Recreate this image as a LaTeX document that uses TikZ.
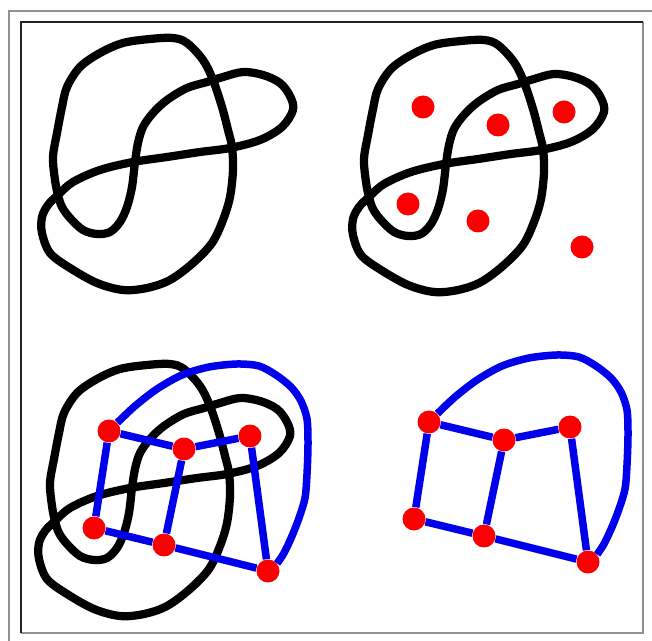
\documentclass[tikz,border=0pt]{standalone}
\usepackage{tikz}
\usetikzlibrary{calc}
\definecolor{linkblue}{RGB}{0,0,235}
\definecolor{dotred}{RGB}{250,0,0}
\definecolor{framegray}{RGB}{145,145,145}
\definecolor{framedark}{RGB}{35,35,35}

\begin{document}
\begin{tikzpicture}[x=0.02cm,y=-0.02cm,
    knot/.style={black,line width=0.165cm,line join=round},
    link/.style={linkblue,line width=0.15cm,line join=round},
    vertex/.style={circle,fill=dotred,inner sep=0pt,minimum size=0.46cm}]
  \useasboundingbox (0,0) rectangle (652,641);
  % frame
  \draw[framegray,line width=0.04cm] (9,641) -- (9,11) -- (652,11);
  \draw[framegray,line width=0.04cm] (643,22) -- (643,633) -- (21,633);
  \draw[framedark,line width=0.04cm] (21,633) -- (21,22) -- (643,22);
  % the knot, three times
  \foreach \dx/\dy in {0/0,311/2,-3/326}
    \draw[knot,shift={(\dx,\dy)}] plot[smooth cycle,tension=0.55] coordinates {
      (173,38) (150,39) (123,43) (100,53) (80,67) (67,87) (62,107) (57,133)
      (53,157) (55,180) (58,195) (62,207) (70,218) (83,230) (97,234) (110,232)
      (120,222) (127,207) (132,187) (135,162) (138,143) (143,127) (153,113)
      (167,100) (187,88) (207,82) (223,77) (243,72) (263,75) (280,83) (290,96)
      (293,110) (282,127) (260,140) (230,148) (200,152) (167,157) (133,162)
      (100,170) (73,182) (58,195) (48,205) (42,217) (42,233) (50,253) (70,268)
      (97,283) (123,290) (147,288) (170,280) (193,263) (212,243) (223,220)
      (230,197) (233,170) (232,147) (228,130) (222,107) (213,80) (203,60) (187,43)};
  % points of the top right panel
  \foreach \n/\x/\y in {a/112/105,b/187/123,c/253/110,d/97/202,e/167/219,f/271/245}
    \node[vertex] (t\n) at (\x+311,\y+2) {};
  % the graph, twice
  \foreach \g/\dx/\dy in {l/-3/326,r/317/317}{
    \begin{scope}[shift={(\dx,\dy)}]
      \foreach \n/\x/\y in {a/112/105,b/187/123,c/253/110,d/97/202,e/167/219,f/271/245}
        \node[vertex] (\g\n) at (\x,\y) {};
      \foreach \a/\b in {a/b,b/c,a/d,b/e,c/f,d/e,e/f}
        \draw[link] (\g\a) -- (\g\b);
      \draw[link] plot[smooth,tension=0.5] coordinates {(\g a.45) (138,80) (160,63)
        (185,49) (212,41) (240,38) (262,40) (279,49) (294,61) (304,75) (310,93)
        (311,118) (310,148) (308,172) (302,192) (295,210) (287,227) (\g f.40)};
    \end{scope}
  }
\end{tikzpicture}
\end{document}
